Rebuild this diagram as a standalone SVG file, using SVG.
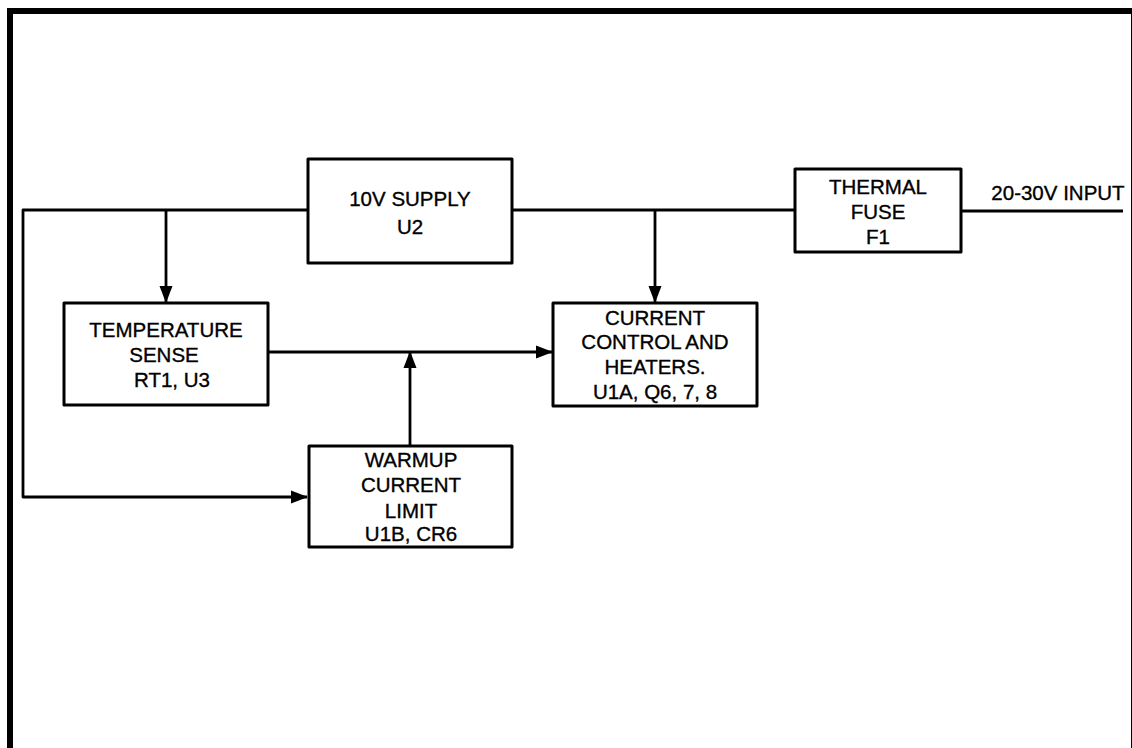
<svg xmlns="http://www.w3.org/2000/svg" width="1132" height="748" viewBox="0 0 1132 748">
<style>
.box{fill:#fff;stroke:#000;stroke-width:3;stroke-linejoin:round}
.ln{fill:none;stroke:#000;stroke-width:2.8;stroke-linejoin:round}
text{font-family:"Liberation Sans",Arial,sans-serif;font-size:20.5px;fill:#000;stroke:#000;stroke-width:0.35;text-anchor:middle}
</style>
<defs>
<marker id="ah" markerWidth="17" markerHeight="14" refX="16" refY="7" orient="auto" markerUnits="userSpaceOnUse">
<path d="M0,0.5 L17,7 L0,13.5 Z" fill="#000"/>
</marker>
</defs>
<rect width="1132" height="748" fill="#fff"/>
<rect x="10" y="11" width="1124" height="760" fill="none" stroke="#000" stroke-width="6"/>
<g id="connectors">
<path class="ln" d="M308,210 H23 V497 H307" marker-end="url(#ah)"/>
<path class="ln" d="M166,210 V302" marker-end="url(#ah)"/>
<path class="ln" d="M512,210 H795"/>
<path class="ln" d="M655,210 V302" marker-end="url(#ah)"/>
<path class="ln" d="M961,211 H1123"/>
<path class="ln" d="M268,352 H552" marker-end="url(#ah)"/>
<path class="ln" d="M410,446 V352" marker-end="url(#ah)"/>
</g>
<g id="supply">
<rect class="box" x="308" y="159" width="204" height="104"/>
<text x="410" y="206">10V SUPPLY</text>
<text x="410" y="234">U2</text>
</g>
<g id="fuse">
<rect class="box" x="795" y="169" width="166" height="83"/>
<text x="878" y="194">THERMAL</text>
<text x="878" y="219">FUSE</text>
<text x="878" y="244">F1</text>
</g>
<g id="input">
<text x="1058" y="200">20-30V INPUT</text>
</g>
<g id="temp">
<rect class="box" x="64" y="303" width="204" height="102"/>
<text x="166" y="337">TEMPERATURE</text>
<text x="164" y="362">SENSE</text>
<text x="172" y="387">RT1, U3</text>
</g>
<g id="current">
<rect class="box" x="553" y="303" width="204" height="103"/>
<text x="655" y="325">CURRENT</text>
<text x="655" y="349">CONTROL AND</text>
<text x="655" y="374">HEATERS.</text>
<text x="655" y="399">U1A, Q6, 7, 8</text>
</g>
<g id="warmup">
<rect class="box" x="309" y="446" width="203" height="101"/>
<text x="411" y="467">WARMUP</text>
<text x="411" y="492">CURRENT</text>
<text x="411" y="518">LIMIT</text>
<text x="411" y="541">U1B, CR6</text>
</g>
</svg>
